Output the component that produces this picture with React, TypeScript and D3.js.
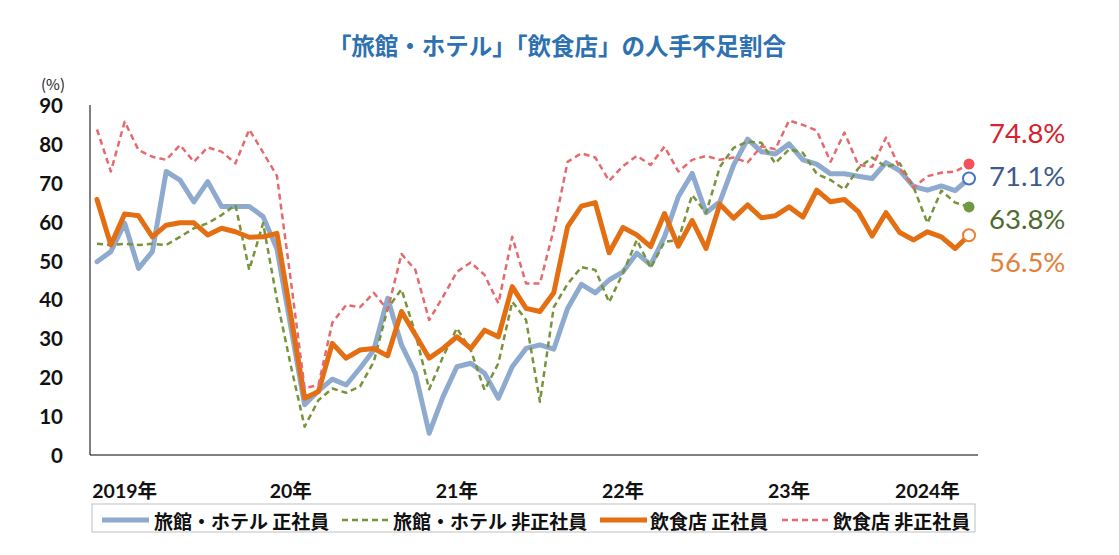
import React from 'react';
import * as d3 from 'd3';

// monthly survey, Jan 2019 - Apr 2024 (%)
const startYear = 2019;
const ryokanSeishain = [
  49.7, 52.3, 59.6, 48, 52.3, 72.9, 70.7, 65.1, 70.3, 63.9, 63.9, 63.9,
  61.3, 53, 33, 12.9, 16.5, 19.5, 18, 22.3, 27, 40.3, 28.3, 21,
  5.6, 15, 22.7, 23.6, 21, 14.6, 22.7, 27.4, 28.3, 27.2, 37.7, 43.9,
  41.7, 45, 47.1, 51.9, 48.9, 56.1, 66.4, 72.4, 62.3, 65.1, 74.6, 81.2,
  78, 77.4, 80, 75.9, 74.8, 72.3, 72.3, 71.7, 71.1, 75.2, 73.1, 69,
  68.1, 69.2, 68, 71.1,
];
const ryokanHiseishain = [
  54.3, 54, 54.3, 54, 54.3, 54, 56.1, 58.3, 59.6, 61.7, 64.3, 47.6,
  59.6, 40, 23, 7.3, 14.1, 17.1, 16, 17.6, 24, 37.7, 42.6, 31.3,
  16.9, 25.3, 32.6, 27, 16.7, 23.6, 39.4, 34.7, 13.7, 38, 44, 48.3,
  47.6, 39.3, 46.8, 55.3, 48.1, 54.8, 55.3, 66.9, 62.2, 74.1, 79, 80.6,
  80.3, 75, 78.6, 77.7, 72.3, 70.7, 68.3, 73.7, 76.5, 74.1, 75, 68.8,
  59.6, 68, 64.9, 63.8,
];
const inshokuSeishain = [
  65.7, 54, 62, 61.5, 56.1, 59.1, 59.7, 59.7, 56.6, 58.3, 57.4, 56,
  56.1, 57, 36, 14.6, 16.3, 28.7, 24.9, 27, 27.4, 25.5, 36.9, 30.9,
  24.9, 27.4, 30.4, 27.4, 32.1, 30.4, 43.3, 37.7, 36.9, 41.7, 58.7, 64,
  64.9, 52, 58.5, 56.6, 53.6, 62.1, 53.7, 60.3, 53.1, 64.5, 60.9, 64.3,
  61, 61.5, 63.8, 61.2, 68.1, 65.1, 65.7, 62.6, 56.3, 62.3, 57.2, 55.3,
  57.4, 56.1, 53.1, 56.5,
];
const inshokuHiseishain = [
  83.7, 72.9, 85.7, 78.4, 76.7, 75.9, 79.7, 75.4, 79.1, 78, 75, 83.7,
  77.8, 71.8, 45, 17.2, 18, 34, 38.6, 38, 41.7, 37.3, 51.7, 47.6,
  34.7, 40.7, 47.1, 49.5, 46.3, 39, 56.1, 44.1, 44.1, 58, 75.4, 77.6,
  76.5, 70.5, 74.3, 76.9, 74.6, 79.3, 72.9, 75.9, 76.9, 75.9, 76.5, 75.2,
  79.4, 78.6, 86, 84.9, 83.4, 75.4, 82.9, 74.6, 74.1, 81.6, 73.7, 68.8,
  71.7, 72.6, 72.9, 74.8,
];

const yTicks = [0, 10, 20, 30, 40, 50, 60, 70, 80, 90];
const yearLabels = ['2019年', '20年', '21年', '22年', '23年', '2024年'];
const yearLabelMonths = ['2019-03', '2020-03', '2021-03', '2022-03', '2023-03', '2024-01'];

const months = ryokanSeishain.map((_, i) => {
  const y = startYear + Math.floor(i / 12);
  const m = (i % 12) + 1;
  return `${y}-${String(m).padStart(2, '0')}`;
});

const series = [
  { name: '旅館・ホテル 正社員', values: ryokanSeishain, color: '#8eaacf', width: 5, dash: null as string | null,
    marker: { fill: '#ffffff', stroke: '#4472c4', r: 6 }, labelColor: '#3c5a8a' },
  { name: '旅館・ホテル 非正社員', values: ryokanHiseishain, color: '#77933c', width: 2.5, dash: '6,4',
    marker: { fill: '#6f9a40', stroke: 'none', r: 5.5 }, labelColor: '#4e6a30' },
  { name: '飲食店 正社員', values: inshokuSeishain, color: '#e36f12', width: 5, dash: null,
    marker: { fill: '#ffffff', stroke: '#ed7d31', r: 6 }, labelColor: '#e3803a' },
  { name: '飲食店 非正社員', values: inshokuHiseishain, color: '#e56a6e', width: 2.5, dash: '6,4',
    marker: { fill: '#f4505a', stroke: 'none', r: 5.5 }, labelColor: '#d8222c' },
];

// end-of-series labels, top to bottom
const endLabelOrder = [3, 0, 1, 2];

const W = 1119;
const H = 555;
const left = 90;
const right = 978;
const top = 105;
const bottom = 455;

const numFont = "Lato, 'Noto Sans CJK JP', sans-serif";
const jpFont = "'Noto Sans CJK JP', sans-serif";

const App: React.FC = () => {
  const x = d3.scalePoint<string>().domain(months).range([97, 969]);
  const y = d3.scaleLinear().domain([0, 90]).range([bottom, top]);

  const line = d3.line<number>()
    .x((_, i) => x(months[i]) || 0)
    .y(d => y(d));

  const last = months[months.length - 1];
  const legendY = 518;
  const legendItems = [
    { lx: 102, tx: 154 },
    { lx: 342, tx: 393 },
    { lx: 600, tx: 650 },
    { lx: 782, tx: 833 },
  ];

  return (
    <svg width={W} height={H} style={{ position: 'absolute', left: 0, top: 0, background: '#fff' }}>
      <text x={557} y={45} textAnchor="middle" dominantBaseline="central"
        fontFamily={jpFont} fontWeight="bold" fontSize={23.5} fill="#2e71b0">
        「旅館・ホテル」「飲食店」の人手不足割合
      </text>

      <text x={53} y={83} textAnchor="middle" dominantBaseline="central"
        fontFamily={jpFont} fontSize={15} fill="#222">(%)</text>

      {/* Y axis labels */}
      {yTicks.map(t => (
        <text key={t} x={63} y={y(t)} textAnchor="end" dominantBaseline="central"
          fontFamily={numFont} fontWeight="bold" fontSize={20.5} fill="#111">{t}</text>
      ))}

      {/* axes */}
      <line x1={left} x2={left} y1={top} y2={bottom} stroke="#000" strokeWidth={1} />
      <line x1={left} x2={right} y1={bottom} y2={bottom} stroke="#000" strokeWidth={1} />

      {/* X labels */}
      {yearLabels.map((lab, i) => (
        <text key={lab} x={x(yearLabelMonths[i]) || 0} y={490} textAnchor="middle" dominantBaseline="central"
          fontFamily={numFont} fontWeight="bold" fontSize={19.5} fill="#111">{lab}</text>
      ))}

      {/* lines */}
      {series.map(s => (
        <path key={s.name} d={line(s.values) || ''} fill="none" stroke={s.color}
          strokeWidth={s.width} strokeDasharray={s.dash || undefined}
          strokeLinejoin="round" strokeLinecap={s.dash ? 'butt' : 'round'} />
      ))}

      {/* last-point markers */}
      {series.map(s => (
        <circle key={s.name} cx={x(last) || 0} cy={y(s.values[s.values.length - 1])} r={s.marker.r}
          fill={s.marker.fill} stroke={s.marker.stroke} strokeWidth={2} />
      ))}

      {/* end labels */}
      {endLabelOrder.map((si, k) => {
        const s = series[si];
        const v = s.values[s.values.length - 1];
        return (
          <text key={s.name} x={989} y={132 + k * 43.3} dominantBaseline="central"
            fontFamily={numFont} fontSize={27.5} fill={s.labelColor}>{v.toFixed(1)}%</text>
        );
      })}

      {/* legend */}
      <rect x={92} y={504} width={883} height={28} fill="none" stroke="#bfbfbf" strokeWidth={1} />
      {series.map((s, i) => (
        <g key={s.name}>
          <line x1={legendItems[i].lx} x2={legendItems[i].lx + 47} y1={legendY + 2} y2={legendY + 2}
            stroke={s.color} strokeWidth={s.width} strokeDasharray={s.dash || undefined} />
          <text x={legendItems[i].tx} y={legendY + 2} dominantBaseline="central"
            fontFamily={jpFont} fontWeight="bold" fontSize={19} fill="#111">{s.name}</text>
        </g>
      ))}
    </svg>
  );
};

export default App;
